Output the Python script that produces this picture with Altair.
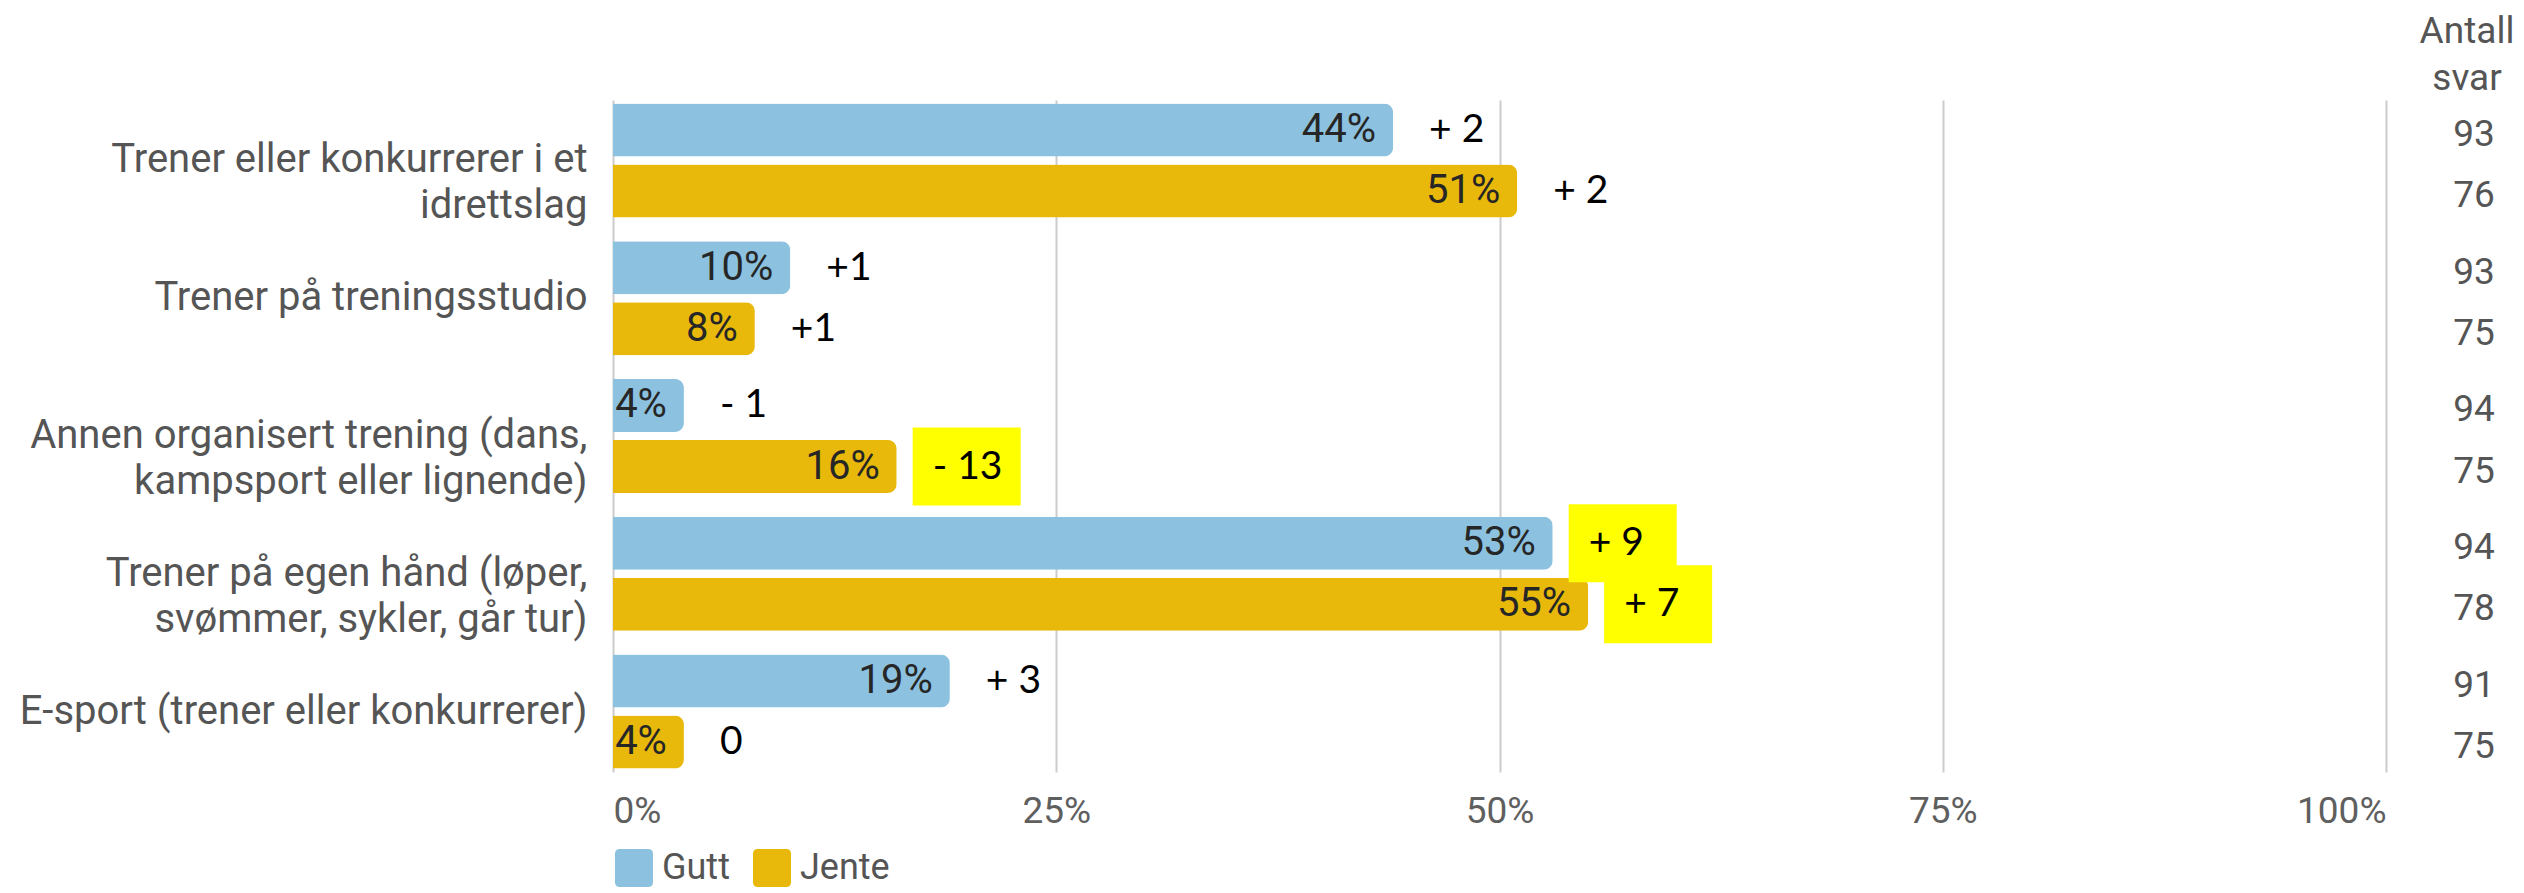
import altair as alt
import pandas as pd

categories = [
    "Trener eller konkurrerer i et|idrettslag",
    "Trener på treningsstudio",
    "Annen organisert trening (dans,|kampsport eller lignende)",
    "Trener på egen hånd (løper,|svømmer, sykler, går tur)",
    "E-sport (trener eller konkurrerer)",
]
groups = ["Gutt", "Jente"]
gutt_pct = [44, 10, 4, 53, 19]
jente_pct = [51, 8, 16, 55, 4]
gutt_n = [93, 93, 94, 94, 91]
jente_n = [76, 75, 75, 78, 75]
gutt_change = ["+ 2", "+1", "- 1", "+ 9", "+ 3"]
jente_change = ["+ 2", "+1", "- 13", "+ 7", "0"]
gutt_highlight = [False, False, False, True, False]
jente_highlight = [False, False, True, True, False]
header_text = "Antall\nsvar"

rows = []
for i, c in enumerate(categories):
    rows.append(dict(cat=c, kjonn="Gutt", pct=gutt_pct[i] / 100, n=gutt_n[i],
                     change=gutt_change[i], hl=gutt_highlight[i]))
    rows.append(dict(cat=c, kjonn="Jente", pct=jente_pct[i] / 100, n=jente_n[i],
                     change=jente_change[i], hl=jente_highlight[i]))
df = pd.DataFrame(rows)

BLUE = "#8cc2df"
GOLD = "#e8b90b"

y = alt.Y(
    "cat:N",
    sort=categories,
    scale=alt.Scale(paddingInner=0.172, paddingOuter=0.025),
    axis=alt.Axis(
        title=None, domain=False, ticks=False, grid=False,
        labelFont="Roboto", labelFontSize=40, labelColor="#555555",
        labelPadding=26, labelLineHeight=46, labelLimit=900,
        labelExpr="split(datum.label, '|')",
    ),
)
yoff = alt.YOffset("kjonn:N", sort=groups,
                   scale=alt.Scale(paddingInner=0.131, paddingOuter=0))
x = alt.X(
    "pct:Q",
    scale=alt.Scale(domain=[0, 1], nice=False),
    axis=alt.Axis(
        title=None, domain=False, ticks=False, grid=True,
        values=[0, 0.25, 0.5, 0.75, 1], format=".0%", labelFlush=True,
        gridColor="#cccccc", gridWidth=2,
        labelFont="Roboto", labelFontSize=37, labelColor="#5f5f5f",
        labelPadding=21,
    ),
)
rounded_square = ("M-0.75,-1 L0.75,-1 Q1,-1 1,-0.75 L1,0.75 Q1,1 0.75,1 "
                  "L-0.75,1 Q-1,1 -1,0.75 L-1,-0.75 Q-1,-1 -0.75,-1 Z")
color = alt.Color(
    "kjonn:N",
    scale=alt.Scale(domain=groups, range=[BLUE, GOLD]),
    legend=alt.Legend(
        title=None, orient="none", legendX=2, legendY=749,
        direction="horizontal", symbolType=rounded_square, symbolSize=1444,
        symbolStrokeWidth=0, labelFont="Roboto", labelFontSize=36,
        labelColor="#555555", labelOffset=9, columnPadding=23, padding=0,
    ),
)

base = alt.Chart(df)

boxes = base.transform_filter("datum.hl").mark_bar(
    size=78, color="#ffff00", xOffset=16, x2Offset=124
).encode(x=alt.X("pct:Q"), x2="pct:Q", y=y, yOffset=yoff)

bars = base.mark_bar(cornerRadiusEnd=9).encode(x=x, y=y, yOffset=yoff, color=color)

pct_text = base.mark_text(
    align="right", baseline="middle", dx=-17, font="Roboto", fontSize=40,
    color="#262626"
).encode(x="pct:Q", y=y, yOffset=yoff, text=alt.Text("pct:Q", format=".0%"))

change_text = base.mark_text(
    align="left", baseline="middle", dx=36, font="Lato", fontSize=39,
    color="#000000"
).encode(x="pct:Q", y=y, yOffset=yoff, text="change:N")

counts = base.mark_text(
    align="center", baseline="middle", dy=5, font="Roboto", fontSize=37,
    color="#555555"
).encode(x=alt.value(1861), y=y, yOffset=yoff, text="n:Q")

header = alt.Chart(pd.DataFrame({"t": [header_text]})).mark_text(
    align="center", baseline="alphabetic", lineBreak="\n", lineHeight=47,
    font="Roboto", fontSize=37, color="#555555"
).encode(x=alt.value(1854), y=alt.value(-57), text="t:N")

chart = alt.layer(bars, pct_text, boxes, change_text, counts, header).properties(
    width=1773, height=672,
    autosize=alt.AutoSizeParams(type="none"),
    padding={"left": 605, "top": 92, "right": 130, "bottom": 118},
).configure_view(stroke=None)

chart.save("out.html", embed_options={"renderer": "svg", "actions": False})
